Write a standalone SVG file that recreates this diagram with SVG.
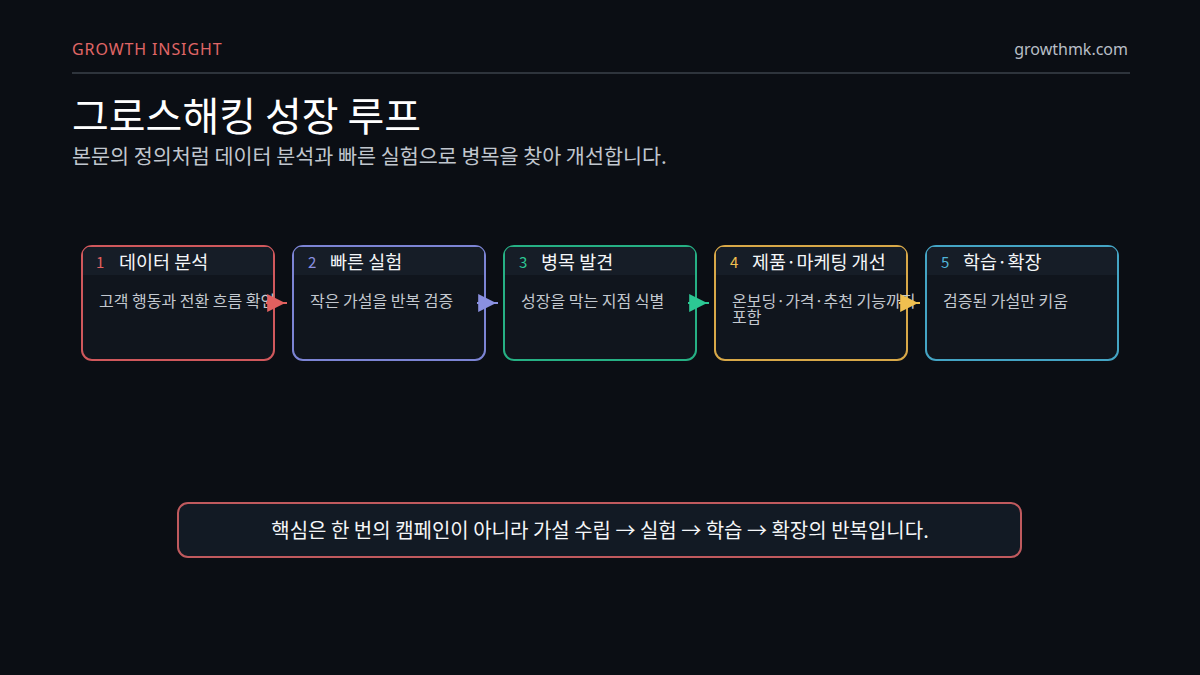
<svg xmlns="http://www.w3.org/2000/svg" width="1200" height="675" viewBox="0 0 1200 675">
<defs>
<style>
text{font-family:"Noto Sans CJK KR","Noto Sans",sans-serif}
.box{fill:#10151d;stroke-width:2}
.hdr{fill:#161d27}
.num{font-size:15px}
.ttl{font-size:18.5px;fill:#f4f6f8}
.body{font-size:16px;fill:#c3c8cf}
.conn{stroke-width:2;fill:none}
</style>
<marker id="a1" viewBox="0 0 10 10" refX="11" refY="5" markerWidth="21" markerHeight="18" markerUnits="userSpaceOnUse" orient="auto"><path d="M0,0 L10,5 L0,10 z" fill="#e0605f"/></marker>
<marker id="a2" viewBox="0 0 10 10" refX="11" refY="5" markerWidth="21" markerHeight="18" markerUnits="userSpaceOnUse" orient="auto"><path d="M0,0 L10,5 L0,10 z" fill="#8a90e0"/></marker>
<marker id="a3" viewBox="0 0 10 10" refX="11" refY="5" markerWidth="21" markerHeight="18" markerUnits="userSpaceOnUse" orient="auto"><path d="M0,0 L10,5 L0,10 z" fill="#2cc894"/></marker>
<marker id="a4" viewBox="0 0 10 10" refX="11" refY="5" markerWidth="21" markerHeight="18" markerUnits="userSpaceOnUse" orient="auto"><path d="M0,0 L10,5 L0,10 z" fill="#f0c050"/></marker>
<clipPath id="c1"><rect x="82" y="246" width="192" height="114" rx="10"/></clipPath>
<clipPath id="c2"><rect x="293" y="246" width="192" height="114" rx="10"/></clipPath>
<clipPath id="c3"><rect x="504" y="246" width="192" height="114" rx="10"/></clipPath>
<clipPath id="c4"><rect x="715" y="246" width="192" height="114" rx="10"/></clipPath>
<clipPath id="c5"><rect x="926" y="246" width="192" height="114" rx="10"/></clipPath>
</defs>
<rect width="1200" height="675" fill="#0b0e14"/>
<g id="header">
<text x="72" y="55" font-size="16" letter-spacing="0.9" fill="#e06666" style="font-family:'Noto Sans',sans-serif">GROWTH INSIGHT</text>
<text x="1128" y="55" font-size="16" fill="#b8bec6" text-anchor="end" style="font-family:'Noto Sans',sans-serif">growthmk.com</text>
<line x1="72" y1="73" x2="1130" y2="73" stroke="#2e343c" stroke-width="2"/>
<text x="72" y="131" font-size="40" fill="#ffffff">그로스해킹 성장 루프</text>
<text x="72" y="164" font-size="20.7" fill="#c0c6ce">본문의 정의처럼 데이터 분석과 빠른 실험으로 병목을 찾아 개선합니다.</text>
</g>
<g id="node1">
<rect class="box" x="82" y="246" width="192" height="114" rx="10" stroke="#d0585c"/>
<rect class="hdr" x="83" y="247" width="190" height="28" clip-path="url(#c1)"/>
<text class="num" x="96" y="268" fill="#e0605f">1</text>
<text class="ttl" x="119" y="269">데이터 분석</text>
<text class="body" x="99" y="307">고객 행동과 전환 흐름 확인</text>
</g>
<g id="node2">
<rect class="box" x="293" y="246" width="192" height="114" rx="10" stroke="#7c84d4"/>
<rect class="hdr" x="294" y="247" width="190" height="28" clip-path="url(#c2)"/>
<text class="num" x="308" y="268" fill="#8a90e0">2</text>
<text class="ttl" x="330" y="269">빠른 실험</text>
<text class="body" x="310" y="307">작은 가설을 반복 검증</text>
</g>
<g id="node3">
<rect class="box" x="504" y="246" width="192" height="114" rx="10" stroke="#26b084"/>
<rect class="hdr" x="505" y="247" width="190" height="28" clip-path="url(#c3)"/>
<text class="num" x="519" y="268" fill="#2cc894">3</text>
<text class="ttl" x="541" y="269">병목 발견</text>
<text class="body" x="521" y="307">성장을 막는 지점 식별</text>
</g>
<g id="node4">
<rect class="box" x="715" y="246" width="192" height="114" rx="10" stroke="#d8a848"/>
<rect class="hdr" x="716" y="247" width="190" height="28" clip-path="url(#c4)"/>
<text class="num" x="730" y="268" fill="#f0c050">4</text>
<text class="ttl" x="752" y="269">제품·마케팅 개선</text>
<text class="body" x="732" y="307">온보딩·가격·추천 기능까지</text>
<text class="body" x="732" y="323">포함</text>
</g>
<g id="node5">
<rect class="box" x="926" y="246" width="192" height="114" rx="10" stroke="#44a4c4"/>
<rect class="hdr" x="927" y="247" width="190" height="28" clip-path="url(#c5)"/>
<text class="num" x="941" y="268" fill="#50b4d8">5</text>
<text class="ttl" x="963" y="269">학습·확장</text>
<text class="body" x="943" y="307">검증된 가설만 키움</text>
</g>
<g id="connectors">
<line class="conn" x1="266" y1="303" x2="287" y2="303" stroke="#e0605f" marker-end="url(#a1)"/>
<line class="conn" x1="477" y1="303" x2="498" y2="303" stroke="#8a90e0" marker-end="url(#a2)"/>
<line class="conn" x1="688" y1="303" x2="709" y2="303" stroke="#2cc894" marker-end="url(#a3)"/>
<line class="conn" x1="899" y1="303" x2="920" y2="303" stroke="#f0c050" marker-end="url(#a4)"/>
</g>
<g id="summary">
<rect x="178" y="503" width="843" height="54" rx="10" fill="#121a24" stroke="#c05a5e" stroke-width="2"/>
<text x="600" y="538" font-size="20" fill="#f4f6f8" text-anchor="middle">핵심은 한 번의 캠페인이 아니라 가설 수립 → 실험 → 학습 → 확장의 반복입니다.</text>
</g>
</svg>
